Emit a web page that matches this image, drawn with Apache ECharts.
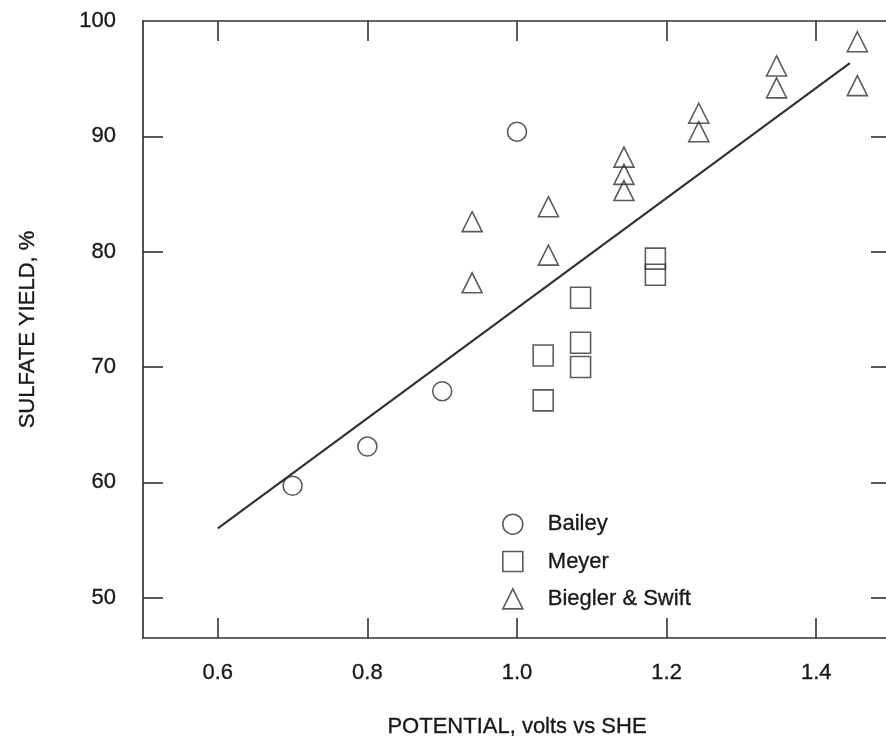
<!DOCTYPE html>
<html>
<head>
<meta charset="utf-8">
<script src="https://cdn.jsdelivr.net/npm/echarts@6/dist/echarts.min.js"></script>
<style>
  html, body { margin: 0; padding: 0; background: #fff; }
  #chart { width: 886px; height: 736px; }
</style>
</head>
<body>
<div id="chart"></div>
<script>
// Sulfate yield versus electrode potential, three data sources plus a fitted line.
const xTicks = [0.6, 0.8, 1.0, 1.2, 1.4];
const yTicks = [50, 60, 70, 80, 90, 100];

const bailey = [[0.70, 59.7], [0.80, 63.1], [0.90, 67.9], [1.00, 90.4]];
const meyer = [
  [1.035, 71.0], [1.035, 67.1],
  [1.085, 76.0], [1.085, 72.1], [1.085, 70.0],
  [1.185, 79.4], [1.185, 78.0]
];
const biegler = [
  [0.94, 82.6], [0.94, 77.3],
  [1.042, 83.9], [1.042, 79.7],
  [1.143, 88.2], [1.143, 86.7], [1.143, 85.3],
  [1.243, 92.0], [1.243, 90.4],
  [1.347, 96.1], [1.347, 94.2],
  [1.455, 98.2], [1.455, 94.4]
];
const fitLine = [[0.60, 56.0], [1.445, 96.35]];

const ink = '#333';
const textInk = '#1a1a1a';
const font = 'Liberation Sans, Arial, Helvetica, sans-serif';

// Slightly heavier glyphs for all text
const textBase = {
  color: textInk, fontSize: 22, fontFamily: font,
  textBorderColor: textInk, textBorderWidth: 0.35
};

const hollow = { color: 'rgba(255,255,255,0)', borderColor: ink, borderWidth: 1.6 };

const chart = echarts.init(document.getElementById('chart'), null, { renderer: 'canvas' });

function frameAxis(extra) {
  return Object.assign({
    type: 'value',
    axisLine: { show: true, lineStyle: { color: ink, width: 1.7 } },
    splitLine: { show: false }
  }, extra);
}

function ticks(values) {
  return { show: true, inside: true, length: 20, customValues: values, lineStyle: { color: ink, width: 1.6 } };
}

chart.setOption({
  backgroundColor: '#fff',
  animation: false,
  grid: { left: 143, top: 21, width: 748, height: 617, containLabel: false, outerBoundsMode: 'none' },
  xAxis: [
    frameAxis({
      position: 'bottom', min: 0.5, max: 1.5,
      axisTick: ticks(xTicks),
      axisLabel: Object.assign({
        customValues: xTicks, margin: 24,
        formatter: v => v.toFixed(1)
      }, textBase),
      name: 'POTENTIAL, volts vs SHE', nameLocation: 'middle', nameGap: 78,
      nameTextStyle: textBase
    }),
    frameAxis({
      position: 'top', min: 0.5, max: 1.5,
      axisTick: ticks(xTicks),
      axisLabel: { show: false }
    })
  ],
  yAxis: [
    frameAxis({
      position: 'left', min: 46.5, max: 100,
      axisTick: ticks(yTicks.slice(0, 5)),
      axisLabel: Object.assign({ customValues: yTicks, margin: 27 }, textBase),
      name: 'SULFATE YIELD, %', nameLocation: 'middle', nameGap: 104,
      nameTextStyle: textBase
    }),
    frameAxis({
      position: 'right', min: 46.5, max: 100,
      axisTick: ticks(yTicks.slice(0, 5)),
      axisLabel: { show: false }
    })
  ],
  legend: {
    orient: 'vertical', left: 497, top: 508,
    itemWidth: 20, itemHeight: 20, itemGap: 15,
    itemStyle: { borderWidth: 1.6 },
    textStyle: Object.assign({ padding: [0, 0, 0, 20] }, textBase),
    data: ['Bailey', 'Meyer', 'Biegler & Swift']
  },
  series: [
    {
      name: 'fit', type: 'line', data: fitLine, symbol: 'none',
      lineStyle: { color: ink, width: 2.2 }, z: 1, silent: true
    },
    {
      name: 'Bailey', type: 'scatter', data: bailey, symbol: 'circle', symbolSize: 19,
      itemStyle: hollow, clip: false, z: 3
    },
    {
      name: 'Meyer', type: 'scatter', data: meyer, symbol: 'rect', symbolSize: [20, 21],
      itemStyle: hollow, clip: false, z: 3
    },
    {
      name: 'Biegler & Swift', type: 'scatter', data: biegler, symbol: 'triangle', symbolSize: [20, 20],
      itemStyle: hollow, clip: false, z: 3
    }
  ]
});
</script>
</body>
</html>
